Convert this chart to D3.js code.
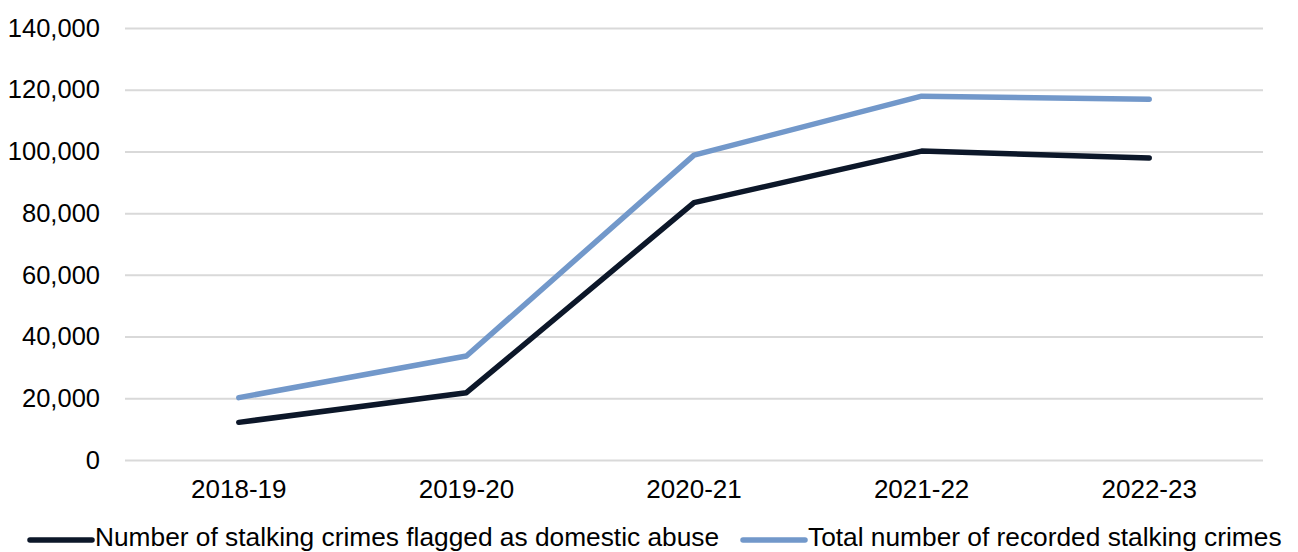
<!DOCTYPE html>
<html>
<head>
<meta charset="utf-8">
<script src="https://cdn.jsdelivr.net/npm/d3@7"></script>
<style>
  body { margin: 0; background: #fff; }
  svg { display: block; font-family: "Liberation Sans", Arial, sans-serif; }
</style>
</head>
<body>
<script>
const years = ['2018-19', '2019-20', '2020-21', '2021-22', '2022-23'];
const domesticAbuse = [12200, 21800, 83400, 100100, 97900];
const totalStalking = [20200, 33700, 98800, 117900, 116900];
const yTicks = [0, 20000, 40000, 60000, 80000, 100000, 120000, 140000];

const width = 1298;
const height = 552;
const margin = { top: 28, right: 35, bottom: 92, left: 125 };

const series = [
    { name: 'Number of stalking crimes flagged as domestic abuse', values: domesticAbuse, color: '#0c1729' },
    { name: 'Total number of recorded stalking crimes', values: totalStalking, color: '#7298ca' }
];

const svg = d3.select('body')
    .append('svg')
    .attr('width', width)
    .attr('height', height);

const x = d3.scaleBand()
    .domain(years)
    .range([margin.left, width - margin.right]);

const y = d3.scaleLinear()
    .domain([0, 140000])
    .range([height - margin.bottom, margin.top]);

// gridlines + y labels
const yAxis = svg.append('g')
    .attr('transform', `translate(${margin.left},0)`)
    .call(d3.axisLeft(y).tickValues(yTicks).tickFormat(d3.format(',')).tickSize(-(width - margin.left - margin.right)).tickPadding(25));

yAxis.select('.domain').remove();
yAxis.selectAll('.tick line').attr('stroke', '#d9d9d9').attr('stroke-width', 2);
yAxis.selectAll('.tick text').attr('font-size', 25.5).attr('fill', '#000').attr('font-family', '"Liberation Sans", Arial, sans-serif');

// x labels
const xAxis = svg.append('g')
    .attr('transform', `translate(0,${height - margin.bottom})`)
    .call(d3.axisBottom(x).tickSize(0).tickPadding(20));

xAxis.select('.domain').remove();
xAxis.selectAll('.tick text').attr('font-size', 26).attr('fill', '#000').attr('font-family', '"Liberation Sans", Arial, sans-serif');

const line = d3.line()
    .x((d, i) => x(years[i]) + x.bandwidth() / 2)
    .y(d => y(d));

svg.selectAll('path.series')
    .data(series)
    .join('path')
    .attr('class', 'series')
    .attr('d', d => line(d.values))
    .attr('fill', 'none')
    .attr('stroke', d => d.color)
    .attr('stroke-width', 5.5)
    .attr('stroke-linecap', 'round')
    .attr('stroke-linejoin', 'round');

// legend
const legendX = [30, 743];
const legend = svg.append('g')
    .selectAll('g')
    .data(series)
    .join('g')
    .attr('transform', (d, i) => `translate(${legendX[i]},540)`);

legend.append('line')
    .attr('x1', 0)
    .attr('x2', 62)
    .attr('stroke', d => d.color)
    .attr('stroke-width', 5.5)
    .attr('stroke-linecap', 'round');

legend.append('text')
    .attr('x', 65)
    .attr('y', 6)
    .attr('font-size', 26.3)
    .attr('fill', '#000')
    .text(d => d.name);
</script>
</body>
</html>
